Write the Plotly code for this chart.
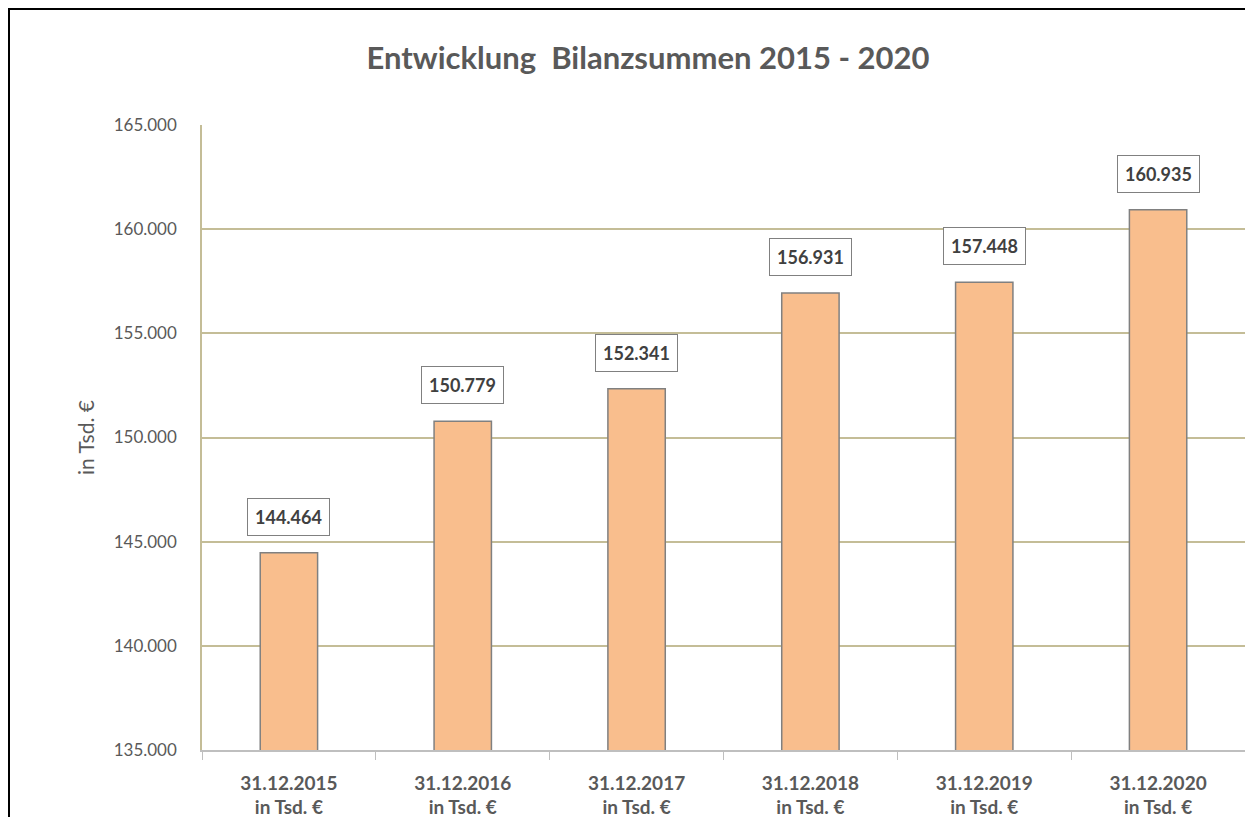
import plotly.graph_objects as go

categories = ["31.12.2015", "31.12.2016", "31.12.2017", "31.12.2018", "31.12.2019", "31.12.2020"]
unit_line = "in Tsd. €"
values = [144464, 150779, 152341, 156931, 157448, 160935]
y_ticks = [135000, 140000, 145000, 150000, 155000, 160000, 165000]

tick_text = [f"<b>{c}</b><br><b>{unit_line}</b>" for c in categories]

def de_fmt(v):
    return f"{v:,.0f}".replace(",", ".")

W, H = 1237, 809
ML, MR, MT, MB = 194, 0, 117, 67
PW = W - ML - MR
PH = H - MT - MB

grid_col = "#C4BD97"
text_col = "#595959"
font_family = "Lato, 'Open Sans', sans-serif"

fig = go.Figure()
fig.add_trace(go.Bar(
    x=tick_text,
    y=values,
    width=0.33,
    marker=dict(color="#F9BE8D", line=dict(color="#808080", width=1.5)),
    hoverinfo="skip",
))

for c, v in zip(tick_text, values):
    fig.add_annotation(
        x=c, y=v, xref="x", yref="y",
        text=f"<b>{de_fmt(v)}</b>",
        showarrow=False,
        yanchor="middle",
        yshift=36,
        font=dict(family=font_family, size=18, color="#404040"),
        bgcolor="white",
        bordercolor="#808080",
        borderwidth=1,
        borderpad=7,
    )

# chart frame: a large empty bordered box whose top-left corner sits at the
# figure corner; its right and bottom edges fall outside the view
fig.add_annotation(
    xref="paper", yref="paper",
    x=-ML / PW, y=1 + MT / PH,
    xanchor="left", yanchor="top",
    text=" ", showarrow=False,
    width=W + 200, height=H + 200,
    bordercolor="black", borderwidth=2, borderpad=0,
    bgcolor="rgba(0,0,0,0)",
)

fig.update_layout(
    width=W, height=H,
    margin=dict(l=ML, r=MR, t=MT, b=MB),
    paper_bgcolor="white",
    plot_bgcolor="white",
    separators=",.",
    showlegend=False,
    title=dict(
        text="<b>Entwicklung\u00a0 Bilanzsummen 2015 - 2020</b>",
        x=(648 - 8) / W, xanchor="center", xref="container",
        y=1 - 50 / H, yanchor="middle", yref="container",
        font=dict(family=font_family, size=31, color=text_col),
    ),
    font=dict(family=font_family, color=text_col),
)

fig.update_yaxes(
    range=[135000, 165000],
    tickvals=y_ticks,
    ticktext=[de_fmt(t) for t in y_ticks],
    showgrid=True, gridcolor=grid_col, gridwidth=1.5,
    showline=True, linecolor=grid_col, linewidth=1.5,
    zeroline=False, automargin=False,
    ticks="", ticklabelstandoff=20,
    tickfont=dict(family=font_family, size=17, color=text_col),
    title=dict(text="in Tsd. €", standoff=13,
               font=dict(family=font_family, size=21, color=text_col)),
)
fig.update_xaxes(
    showline=True, linecolor="#BFBFBF", linewidth=1.5,
    ticks="outside", tickson="boundaries", ticklen=8, tickcolor="#BFBFBF",
    ticklabelstandoff=15, automargin=False,
    tickfont=dict(family=font_family, size=19, color=text_col),
    showgrid=False,
)

fig.write_html("out.html")
